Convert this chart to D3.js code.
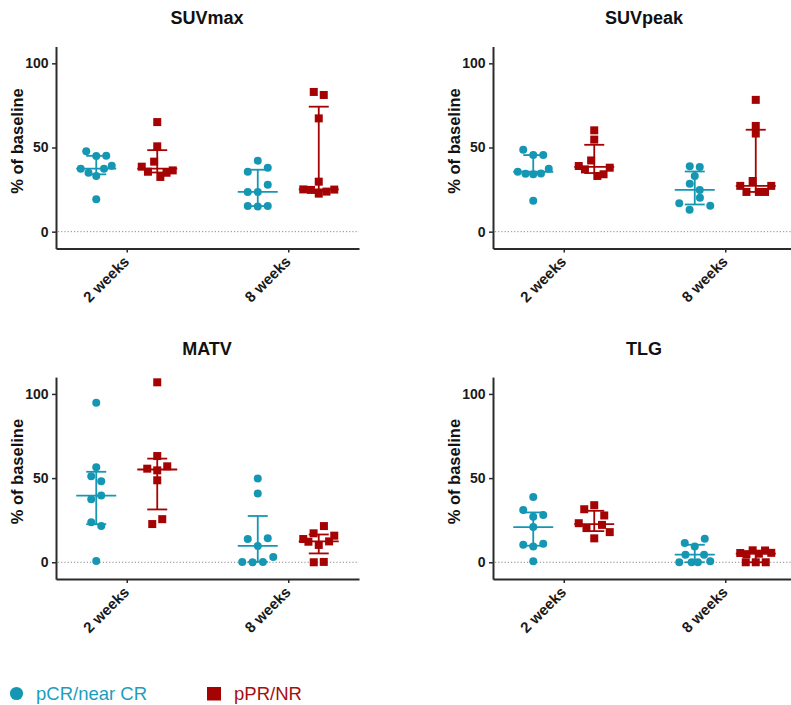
<!DOCTYPE html>
<html>
<head>
<meta charset="utf-8">
<script src="https://cdn.jsdelivr.net/npm/d3@7"></script>
<style>
  html, body { margin: 0; padding: 0; background: #fff; }
  svg { display: block; font-family: "Liberation Sans", Arial, sans-serif; }
</style>
</head>
<body>
<svg id="chart" width="791" height="705"></svg>
<script>
// Time points and response groups
const weeks = ["2 weeks", "8 weeks"];
const groups = ["pCR/near CR", "pPR/NR"];
const titles = ["SUVmax", "SUVpeak", "MATV", "TLG"];
const yTicks = [0, 50, 100];

// % of baseline, per patient
const suvmaxCR2w = [47.7, 45.0, 45.1, 37.4, 35.0, 33.1, 37.4, 39.2, 19.2];
const suvmaxPR2w = [65.1, 50.7, 38.6, 35.6, 41.6, 32.5, 35.0, 36.4];
const suvmaxCR8w = [35.6, 42.2, 38.0, 23.6, 23.6, 27.9, 15.2, 14.9, 15.2];
const suvmaxPR8w = [83.0, 81.2, 67.3, 29.7, 25.1, 24.8, 22.6, 23.8, 25.0];

const suvpeakCR2w = [48.6, 45.5, 45.5, 35.6, 34.4, 34.1, 34.6, 37.4, 18.3];
const suvpeakPR2w = [60.2, 54.7, 39.0, 37.0, 42.3, 33.1, 34.1, 38.0];
const suvpeakCR8w = [38.8, 38.4, 33.1, 28.5, 24.8, 16.9, 13.0, 20.1, 15.4];
const suvpeakPR8w = [78.3, 58.3, 62.8, 27.2, 23.6, 30.1, 23.6, 23.6, 27.2];

const matvCR2w = [94.7, 56.4, 51.1, 48.1, 37.5, 39.6, 23.7, 21.5, 0.8];
const matvPR2w = [106.9, 63.1, 55.6, 54.6, 57.0, 48.7, 22.7, 25.6];
const matvCR8w = [49.7, 40.8, 13.8, 9.7, 14.2, 0.2, 0.0, 0.2, 3.2];
const matvPR8w = [13.8, 12.2, 17.2, 10.3, 21.5, 12.4, 15.8, 0.0, 0.2];

const tlgCR2w = [38.8, 31.1, 27.0, 28.1, 20.9, 10.4, 9.3, 11.0, 0.6];
const tlgPR2w = [31.5, 33.9, 27.8, 23.2, 20.3, 14.2, 22.2, 17.9];
const tlgCR8w = [11.4, 9.4, 14.0, 0.0, 4.5, 0.0, 0.0, 4.5, 0.6];
const tlgPR8w = [5.5, 4.8, 7.1, 5.1, 7.0, 5.6, 0.0, 0.0, 0.0];

const panelData = [
  [[suvmaxCR2w, suvmaxPR2w], [suvmaxCR8w, suvmaxPR8w]],
  [[suvpeakCR2w, suvpeakPR2w], [suvpeakCR8w, suvpeakPR8w]],
  [[matvCR2w, matvPR2w], [matvCR8w, matvPR8w]],
  [[tlgCR2w, tlgPR2w], [tlgCR8w, tlgPR8w]]
];

const colors = { "pCR/near CR": "#1597b4", "pPR/NR": "#a50303" };
const legendText = { "pCR/near CR": "#1b9ebd", "pPR/NR": "#a80e0e" };

const svg = d3.select("#chart");

// layout
const plotW = 303;
const origins = [[56, 0], [493, 0], [56, 330.6], [493, 330.6]];
const y = d3.scaleLinear().domain([-10, 110]).range([248.5, 46.5]);
const x = d3.scalePoint().domain(weeks).range([0, plotW]).padding(0.438);
const sub = d3.scalePoint().domain(groups).range([-30.5, 30.5]);

// quartiles, (n+1)p positioning
function quart(sorted, p) {
  const n = sorted.length, h = (n + 1) * p, lo = Math.floor(h);
  if (lo < 1) return sorted[0];
  if (lo >= n) return sorted[n - 1];
  return sorted[lo - 1] + (h - lo) * (sorted[lo] - sorted[lo - 1]);
}

// spread points that sit at similar heights into horizontal rows
function spread(values) {
  const idx = values.map((v, i) => i).sort((a, b) => values[b] - values[a]);
  const rows = [];
  let cur = null, prevY = null;
  idx.forEach(i => {
    const py = y(values[i]);
    if (cur && py - prevY <= 7.5) cur.push(i);
    else { cur = [i]; rows.push(cur); }
    prevY = py;
  });
  const off = new Array(values.length).fill(0);
  rows.forEach(r => {
    r.sort((a, b) => a - b);
    const n = r.length;
    const sp = n <= 3 ? 10 : 31 / (n - 1);
    r.forEach((i, k) => { off[i] = (k - (n - 1) / 2) * sp; });
  });
  return off;
}

titles.forEach((title, p) => {
  const [ox, oy] = origins[p];
  const g = svg.append("g").attr("transform", `translate(${ox},${oy})`);

  g.append("text")
    .attr("x", plotW / 2 - 0.5).attr("y", 24)
    .attr("text-anchor", "middle")
    .style("font-size", "18px").style("font-weight", "bold").style("fill", "#111")
    .text(title);

  g.append("text")
    .attr("transform", `translate(-33,141) rotate(-90)`)
    .attr("text-anchor", "middle")
    .style("font-size", "16.5px").style("font-weight", "bold").style("fill", "#111")
    .text("% of baseline");

  // zero reference
  g.append("line")
    .attr("x1", 2).attr("x2", plotW)
    .attr("y1", y(0)).attr("y2", y(0))
    .attr("stroke", "#8a8a8a").attr("stroke-width", 1)
    .attr("stroke-dasharray", "1.2,2");

  const ya = g.append("g")
    .call(d3.axisLeft(y).tickValues(yTicks).tickSize(4).tickSizeOuter(0).tickPadding(3.5));
  const xa = g.append("g").attr("transform", `translate(0,${y.range()[0]})`)
    .call(d3.axisBottom(x).tickSize(4).tickSizeOuter(0));
  [ya, xa].forEach(a => {
    a.select(".domain").attr("stroke", "#2b2b2b").attr("stroke-width", 2);
    a.selectAll(".tick line").attr("stroke", "#2b2b2b").attr("stroke-width", 1.5);
    a.selectAll("text").style("font-size", "14px").style("font-weight", "bold")
      .style("fill", "#1a1a1a").style("font-family", "'Liberation Sans', Arial, sans-serif");
  });
  xa.selectAll(".tick text")
    .attr("y", 0).attr("dy", 0)
    .attr("transform", "translate(3,14) rotate(-45)")
    .style("text-anchor", "end").style("font-size", "15px");

  weeks.forEach((w, wi) => {
    groups.forEach((grp, gi) => {
      const vals = panelData[p][wi][gi];
      const cx = x(w) + sub(grp);
      const col = colors[grp];
      const offs = spread(vals);
      const gg = g.append("g");

      if (gi === 0) {
        gg.selectAll("circle").data(vals).join("circle")
          .attr("cx", (d, i) => cx + offs[i]).attr("cy", d => y(d))
          .attr("r", 4).attr("fill", col);
      } else {
        const s = 8;
        gg.selectAll("rect").data(vals).join("rect")
          .attr("x", (d, i) => cx + offs[i] - s / 2).attr("y", d => y(d) - s / 2)
          .attr("width", s).attr("height", s).attr("fill", col);
      }

      const sorted = vals.slice().sort(d3.ascending);
      const med = d3.median(sorted);
      const q1 = quart(sorted, 0.25), q3 = quart(sorted, 0.75);
      const lg = g.append("g").attr("stroke", col).attr("stroke-width", 1.8);
      lg.append("line").attr("x1", cx).attr("x2", cx).attr("y1", y(q1)).attr("y2", y(q3));
      lg.append("line").attr("x1", cx - 10).attr("x2", cx + 10).attr("y1", y(q1)).attr("y2", y(q1));
      lg.append("line").attr("x1", cx - 10).attr("x2", cx + 10).attr("y1", y(q3)).attr("y2", y(q3));
      lg.append("line").attr("x1", cx - 20).attr("x2", cx + 20).attr("y1", y(med)).attr("y2", y(med));
    });
  });
});

// legend
const lg = svg.append("g");
lg.append("circle").attr("cx", 16.5).attr("cy", 693.5).attr("r", 6.6).attr("fill", colors[groups[0]]);
lg.append("text").attr("x", 36).attr("y", 700)
  .style("font-size", "18.5px").style("fill", legendText[groups[0]]).text(groups[0]);
lg.append("rect").attr("x", 207).attr("y", 687).attr("width", 14).attr("height", 13.5)
  .attr("fill", colors[groups[1]]);
lg.append("text").attr("x", 234).attr("y", 700)
  .style("font-size", "18.5px").style("fill", legendText[groups[1]]).text(groups[1]);
</script>
</body>
</html>
